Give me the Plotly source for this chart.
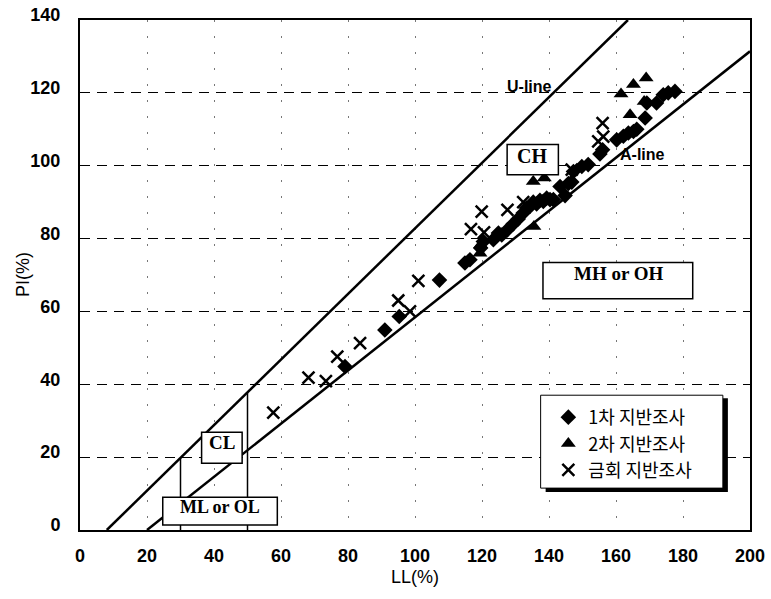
import plotly.graph_objects as go

# Atterberg limits, 1st site investigation (LL %, PI %)
ll_survey1 = [79.1, 91.0, 95.3, 107.3, 114.9, 116.4, 119.6, 120.4, 123.4, 124.9,
              125.9, 127.6, 129.3, 130.8, 132.3, 133.3, 134.3, 135.3, 136.3, 137.3,
              138.3, 139.3, 140.3, 141.3, 143.3, 144.8, 145.8, 146.8, 147.3, 149.8,
              151.7, 155.2, 156.0, 160.2, 162.2, 163.7, 165.2, 166.2, 168.7, 169.2,
              172.1, 174.1, 175.6, 177.6]
pi_survey1 = [44.9, 54.9, 58.6, 68.6, 73.3, 74.2, 77.4, 79.2, 79.7, 81.5,
              81.0, 82.4, 84.0, 85.4, 87.0, 88.4, 88.8, 90.0, 89.5, 90.5,
              90.2, 91.1, 90.7, 90.7, 94.3, 91.8, 95.1, 95.5, 98.4, 99.8,
              100.3, 103.2, 104.4, 107.1, 108.1, 109.0, 109.4, 110.0, 113.1, 117.2,
              117.2, 119.5, 120.0, 120.4]

# 2nd site investigation
ll_survey2 = [119.4, 119.6, 135.3, 135.5, 138.6, 161.5, 164.2, 165.2, 168.4, 169.0]
pi_survey2 = [76.0, 78.3, 95.7, 83.3, 96.6, 119.7, 114.0, 122.3, 117.6, 124.1]

# Current investigation
ll_survey3 = [57.7, 68.2, 73.4, 76.8, 83.6, 95.0, 98.5, 101.0, 116.7, 119.9,
              120.6, 127.6, 132.3, 146.8, 154.7, 156.2, 156.0]
pi_survey3 = [32.2, 41.8, 40.9, 47.6, 51.3, 63.0, 60.0, 68.4, 82.6, 87.4,
              81.7, 87.9, 90.0, 98.9, 106.7, 108.0, 111.7]

series_names = ["1차 지반조사", "2차 지반조사", "금회 지반조사"]

x_ticks = [0, 20, 40, 60, 80, 100, 120, 140, 160, 180, 200]
y_ticks = [0, 20, 40, 60, 80, 100, 120, 140]

# Casagrande plasticity chart boundaries
a_line_ll = [20, 200]
u_line_ll = [8, 163.56]
split_ll = [30, 50]


def a_line(ll):
    return 0.73 * (ll - 20)


def u_line(ll):
    return 0.9 * (ll - 8)


fig = go.Figure()

fig.add_trace(go.Scatter(x=a_line_ll, y=[a_line(v) for v in a_line_ll], mode="lines",
                         line=dict(color="black", width=2.5), showlegend=False,
                         hoverinfo="skip"))
fig.add_trace(go.Scatter(x=u_line_ll, y=[u_line(v) for v in u_line_ll], mode="lines",
                         line=dict(color="black", width=2.5), showlegend=False,
                         hoverinfo="skip"))
for v in split_ll:
    fig.add_trace(go.Scatter(x=[v, v], y=[0, u_line(v)], mode="lines",
                             line=dict(color="black", width=1.5), showlegend=False,
                             hoverinfo="skip"))

fig.add_trace(go.Scatter(x=ll_survey1, y=pi_survey1, mode="markers", name=series_names[0],
                         marker=dict(symbol="diamond", size=12, color="black")))
fig.add_trace(go.Scatter(x=ll_survey2, y=pi_survey2, mode="markers", name=series_names[1],
                         marker=dict(symbol="triangle-up", size=13, color="black")))
fig.add_trace(go.Scatter(x=ll_survey3, y=pi_survey3, mode="markers", name=series_names[2],
                         marker=dict(symbol="x-thin", size=12, color="black",
                                     line=dict(color="black", width=2.5))))

# Zone label boxes
zone_boxes = [
    dict(x0=127.5, x1=142.8, y0=97.5, y1=105.8),
    dict(x0=138.2, x1=182.9, y0=63.5, y1=73.4),
    dict(x0=36.3, x1=48.4, y0=18.3, y1=26.8),
    dict(x0=24.7, x1=58.9, y0=1.4, y1=9.0),
]
shapes = []
for b in zone_boxes:
    shapes.append(dict(type="rect", xref="x", yref="y", layer="above",
                       fillcolor="white", line=dict(color="black", width=1.5), **b))

# Legend frame with drop shadow
shapes.append(dict(type="rect", xref="x", yref="y", layer="above",
                   x0=139.0, x1=193.4, y0=10.4, y1=36.2,
                   fillcolor="black", line=dict(width=0)))
shapes.append(dict(type="rect", xref="x", yref="y", layer="above",
                   x0=137.5, x1=191.9, y0=11.5, y1=37.0,
                   fillcolor="white", line=dict(color="black", width=1)))

serif = dict(family="Liberation Serif, Times New Roman, serif", color="black", weight="bold")
sans_b = dict(family="Liberation Sans, Arial, sans-serif", color="black", weight="bold")

annotations = [
    dict(x=134.8, y=102.6, text="CH", font=dict(size=20, **serif)),
    dict(x=160.9, y=70.3, text="MH or OH", font=dict(size=19, **serif)),
    dict(x=42.3, y=24.0, text="CL", font=dict(size=19, **serif)),
    dict(x=41.8, y=6.4, text="ML or OL", font=dict(size=18, **serif)),
    dict(x=134.3, y=121.8, text="U-line", font=dict(size=16, **sans_b)),
    dict(x=168.0, y=103.2, text="A-line", font=dict(size=16, **sans_b)),
]
for a in annotations:
    a.update(xref="x", yref="y", showarrow=False)

annotations.append(dict(xref="paper", yref="paper", x=0.5, y=0, yshift=-47,
                        xanchor="center", yanchor="middle",
                        text="LL(%)", showarrow=False,
                        font=dict(family="Liberation Sans, Arial, sans-serif", size=18,
                                  color="black")))
annotations.append(dict(xref="paper", yref="paper", x=0, y=0.5, xshift=-57,
                        xanchor="center", yanchor="middle",
                        text="PI(%)", showarrow=False, textangle=-90,
                        font=dict(family="Liberation Sans, Arial, sans-serif", size=18,
                                  color="black")))

tick_font = dict(family="Liberation Sans, Arial, sans-serif", size=18, color="black",
                 weight="bold")

fig.update_layout(
    width=771, height=599,
    margin=dict(l=80, r=21, t=20, b=69),
    paper_bgcolor="white", plot_bgcolor="white",
    shapes=shapes, annotations=annotations,
    showlegend=True,
    legend=dict(x=0.699, y=0.257, xanchor="left", yanchor="top",
                bgcolor="rgba(0,0,0,0)", borderwidth=0,
                font=dict(family="Noto Sans CJK KR", size=18, color="black")),
    xaxis=dict(range=[0, 200], tickvals=x_ticks, ticktext=[str(v) for v in x_ticks],
               showline=True, mirror=True, linecolor="black", linewidth=2,
               showgrid=True, gridcolor="#777", gridwidth=1, griddash="2px,14px",
               zeroline=False, ticks="", tickfont=tick_font, ticklabelstandoff=8,
               automargin=False),
    yaxis=dict(range=[0, 140], tickvals=y_ticks, ticktext=[str(v) for v in y_ticks],
               showline=True, mirror=True, linecolor="black", linewidth=2,
               showgrid=True, gridcolor="black", gridwidth=1, griddash="10px,7px",
               zeroline=False, ticks="", tickfont=tick_font, ticklabelstandoff=14,
               ticklabelshift=-5, automargin=False),
)

fig.write_html("out.html")
